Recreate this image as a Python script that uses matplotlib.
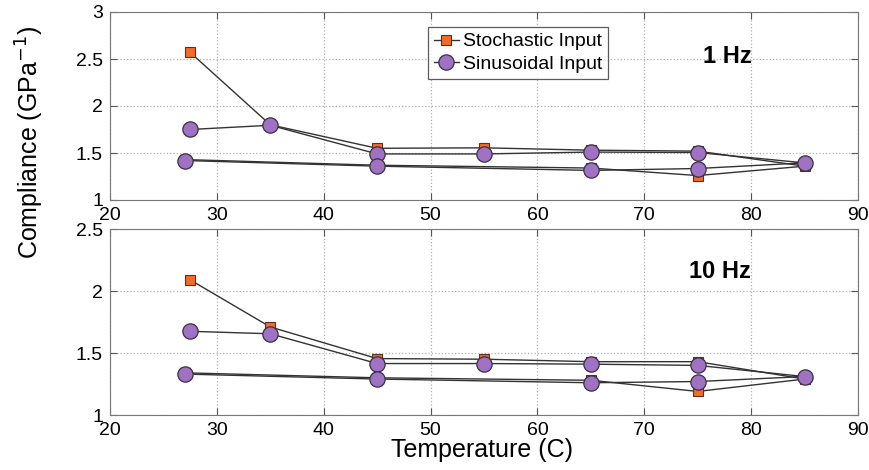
import matplotlib
matplotlib.use("Agg")
import matplotlib.pyplot as plt

plt.rcParams["font.family"] = ["Liberation Sans", "DejaVu Sans"]

# temperature path: heating up to 85 C, then cooling back down
temps = [27.5, 35, 45, 55, 65, 75, 85, 75, 65, 45, 27]

stoch_1hz = [2.57, 1.80, 1.55, 1.555, 1.53, 1.52, 1.36, 1.26, 1.34, 1.37, 1.43]
sinus_1hz = [1.75, 1.795, 1.49, 1.49, 1.51, 1.505, 1.395, 1.335, 1.315, 1.36, 1.42]

stoch_10hz = [2.09, 1.71, 1.455, 1.45, 1.43, 1.43, 1.29, 1.19, 1.28, 1.30, 1.34]
sinus_10hz = [1.675, 1.655, 1.415, 1.415, 1.41, 1.40, 1.31, 1.27, 1.26, 1.29, 1.33]

xticks = [20, 30, 40, 50, 60, 70, 80, 90]
yticks_top = [1, 1.5, 2, 2.5, 3]
yticks_bot = [1, 1.5, 2, 2.5]

fig = plt.figure(figsize=(8.7, 4.7), dpi=100)
ax1 = fig.add_axes([110 / 870, 1 - 200 / 470, 748 / 870, 188 / 470])
ax2 = fig.add_axes([110 / 870, 1 - 415 / 470, 748 / 870, 186 / 470])


def draw_panel(ax, stoch, sinus, yticks, label, label_pos):
    ax.plot(temps, stoch, color="#333333", lw=1.0, marker="s", ms=7.5,
            mfc="#f26b2b", mec="#5a3020", mew=0.8, label="Stochastic Input")
    ax.plot(temps, sinus, color="#333333", lw=1.0, marker="o", ms=11,
            mfc="#a072c4", mec="#3a3040", mew=0.9, label="Sinusoidal Input")
    ax.set_xlim(20, 90)
    ax.set_ylim(yticks[0], yticks[-1])
    ax.set_xticks(xticks)
    ax.set_yticks(yticks)
    ax.set_yticklabels([f"{v:g}" for v in yticks])
    ax.grid(True, linestyle=":", color="#b0b0b0", lw=0.9)
    ax.tick_params(direction="in", top=True, right=True, labelsize=14,
                   length=5, color="#555555", pad=5)
    for s in ax.spines.values():
        s.set_color("#777777")
    ax.text(label_pos[0], label_pos[1], label, transform=ax.transAxes,
            fontsize=17, fontweight="bold", ha="center", va="center")


draw_panel(ax1, stoch_1hz, sinus_1hz, yticks_top, "1 Hz", (0.825, 0.765))
draw_panel(ax2, stoch_10hz, sinus_10hz, yticks_bot, "10 Hz", (0.815, 0.77))

leg = ax1.legend(loc="upper left", bbox_to_anchor=(0.425, 0.92), fontsize=14,
                 frameon=True, fancybox=False, handlelength=1.3,
                 handletextpad=0.2, borderpad=0.3, labelspacing=0.25,
                 borderaxespad=0)
leg.get_frame().set_edgecolor("#333333")
leg.get_frame().set_linewidth(0.9)

fig.text(30 / 870, 1 - 143 / 470, "Compliance (GPa$^{-1}$)", rotation=90,
         ha="center", va="center", fontsize=18)
fig.text(482 / 870, 1 - 450 / 470, "Temperature (C)", ha="center",
         va="center", fontsize=18)

fig.savefig("out.png", dpi=100)
